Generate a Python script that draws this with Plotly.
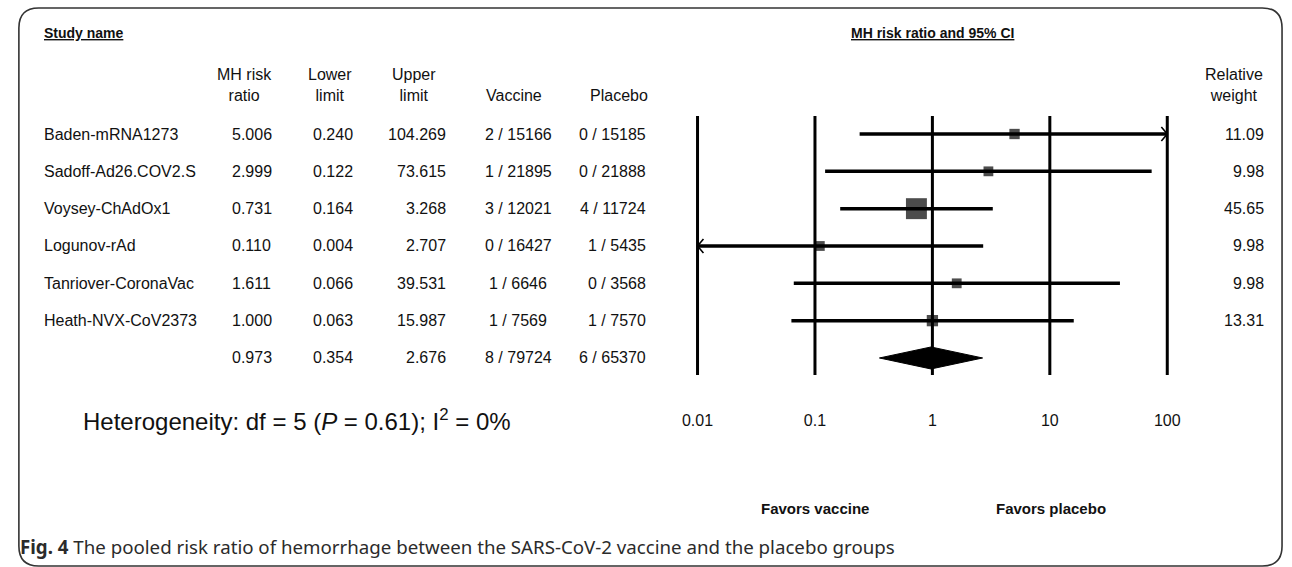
import math
import plotly.graph_objects as go

# ---- data ----
studies = ["Baden-mRNA1273", "Sadoff-Ad26.COV2.S", "Voysey-ChAdOx1",
           "Logunov-rAd", "Tanriover-CoronaVac", "Heath-NVX-CoV2373"]
risk_ratio = [5.006, 2.999, 0.731, 0.110, 1.611, 1.000]
lower_limit = [0.240, 0.122, 0.164, 0.004, 0.066, 0.063]
upper_limit = [104.269, 73.615, 3.268, 2.707, 39.531, 15.987]
vaccine_events = ["2 / 15166", "1 / 21895", "3 / 12021", "0 / 16427", "1 / 6646", "1 / 7569"]
placebo_events = ["0 / 15185", "0 / 21888", "4 / 11724", "1 / 5435", "0 / 3568", "1 / 7570"]
relative_weight = [11.09, 9.98, 45.65, 9.98, 9.98, 13.31]

pooled_rr = 0.973
pooled_lower = 0.354
pooled_upper = 2.676
pooled_vaccine = "8 / 79724"
pooled_placebo = "6 / 65370"

tick_values = [0.01, 0.1, 1, 10, 100]
tick_labels = ["0.01", "0.1", "1", "10", "100"]

# ---- page geometry (pixels) ----
W, H = 1292, 567
ROW0_PX, ROW_STEP = 134.0, 37.33      # centre of first study row, row pitch
PLOT_BOTTOM_PX = 409.0                # bottom of the forest panel
X_MIN_LOG, X_MAX_LOG = -2.05, 2.05
DECADE_PX = 119.0
X_LEFT_PX = 696.7 - 0.05 * DECADE_PX
X_RIGHT_PX = 1172.7 + 0.05 * DECADE_PX


def px(x):
    return x / W


def py(y):
    return 1 - y / H


def row_of(y_px):
    return (y_px - ROW0_PX) / ROW_STEP


FONT = "Liberation Sans, Arial, sans-serif"
INK = "#111111"

fig = go.Figure()

# reference lines at each decade
line_top, line_bottom = row_of(116), row_of(375)
vx, vy = [], []
for t in tick_values:
    vx += [t, t, None]
    vy += [line_top, line_bottom, None]
fig.add_trace(go.Scatter(x=vx, y=vy, mode="lines",
                         line=dict(color="black", width=3), hoverinfo="skip"))

# confidence intervals, clipped to the axis with open arrowheads
lo_lim, hi_lim = 10 ** -2, 10 ** 2
ci_x, ci_y, arr_x, arr_y = [], [], [], []
head_w = 6.0 / DECADE_PX          # arrowhead length in decades
head_h = 7.0 / ROW_STEP           # arrowhead half-height in rows
for i, (lo, hi) in enumerate(zip(lower_limit, upper_limit)):
    a, b = max(lo, lo_lim), min(hi, hi_lim)
    ci_x += [a, b, None]
    ci_y += [i, i, None]
    if hi > hi_lim:
        back = 10 ** (math.log10(hi_lim) - head_w)
        arr_x += [back, hi_lim, back, None]
        arr_y += [i - head_h, i, i + head_h, None]
    if lo < lo_lim:
        back = 10 ** (math.log10(lo_lim) + head_w)
        arr_x += [back, lo_lim, back, None]
        arr_y += [i - head_h, i, i + head_h, None]
fig.add_trace(go.Scatter(x=ci_x, y=ci_y, mode="lines",
                         line=dict(color="black", width=3.5), hoverinfo="skip"))
fig.add_trace(go.Scatter(x=arr_x, y=arr_y, mode="lines",
                         line=dict(color="black", width=1.6), hoverinfo="skip"))

# study point estimates, square size follows relative weight
fig.add_trace(go.Scatter(
    x=risk_ratio, y=list(range(len(studies))), mode="markers",
    marker=dict(symbol="square", color="black",
                size=[3.1 * math.sqrt(w) for w in relative_weight],
                line=dict(width=0)),
    cliponaxis=False, hoverinfo="skip"))

# pooled estimate diamond
pooled_row = len(studies)
half = 11.0 / ROW_STEP
fig.add_trace(go.Scatter(
    x=[pooled_lower, pooled_rr, pooled_upper, pooled_rr, pooled_lower],
    y=[pooled_row, pooled_row - half, pooled_row, pooled_row + half, pooled_row],
    mode="lines", fill="toself", fillcolor="black",
    line=dict(color="black", width=1), hoverinfo="skip"))

annotations = []


def txt(text, x, y, xref="paper", yref="paper", size=16, anchor="center",
        bold=False, color=INK, family=FONT, yanchor="middle"):
    annotations.append(dict(
        text=f"<b>{text}</b>" if bold else text, x=x, y=y, xref=xref, yref=yref,
        xanchor=anchor, yanchor=yanchor, showarrow=False,
        font=dict(family=family, size=size, color=color)))


# headers
txt("<u>Study name</u>", px(32), py(33), size=14, anchor="left", bold=True)
txt("<u>MH risk ratio and 95% CI</u>", px(935), py(33), size=14, bold=True)
txt("MH risk<br>ratio", px(238), py(85))
txt("Lower<br>limit", px(324), py(85))
txt("Upper<br>limit", px(409), py(85))
txt("Vaccine", px(511), py(95))
txt("Placebo", px(617), py(95))
txt("Relative<br>weight", px(1240), py(85))

# table rows
for i, name in enumerate(studies):
    txt(name, px(32), i, yref="y", anchor="left")
    txt(f"{risk_ratio[i]:.3f}", px(245), i, yref="y")
    txt(f"{lower_limit[i]:.3f}", px(327), i, yref="y")
    txt(f"{upper_limit[i]:.3f}", px(444), i, yref="y", anchor="right")
    txt(vaccine_events[i], px(515), i, yref="y")
    txt(placebo_events[i], px(646), i, yref="y", anchor="right")
    txt(f"{relative_weight[i]:.2f}", px(1273), i, yref="y", anchor="right")

txt(f"{pooled_rr:.3f}", px(245), pooled_row, yref="y")
txt(f"{pooled_lower:.3f}", px(327), pooled_row, yref="y")
txt(f"{pooled_upper:.3f}", px(444), pooled_row, yref="y", anchor="right")
txt(pooled_vaccine, px(515), pooled_row, yref="y")
txt(pooled_placebo, px(646), pooled_row, yref="y", anchor="right")

txt("Heterogeneity: df = 5 (<i>P</i> = 0.61); I<sup>2</sup> = 0%",
    px(72), py(420), size=24, anchor="left")

txt("Favors vaccine", px(816), py(508), size=15, bold=True)
txt("Favors placebo", px(1055), py(508), size=15, bold=True)

txt("<b>Fig. 4</b> The pooled risk ratio of hemorrhage between the SARS-CoV-2 "
    "vaccine and the placebo groups", px(8), py(546), size=18.7, anchor="left",
    color="#2b2b2b", family="Noto Sans, Open Sans, sans-serif")

# rounded frame around the figure
x0, x1, y0, y1, r = 9, 1289, 8, 566, 20
frame = (f"M {px(x0 + r)} {py(y0)} L {px(x1 - r)} {py(y0)} "
         f"Q {px(x1)} {py(y0)} {px(x1)} {py(y0 + r)} "
         f"L {px(x1)} {py(y1 - r)} Q {px(x1)} {py(y1)} {px(x1 - r)} {py(y1)} "
         f"L {px(x0 + r)} {py(y1)} Q {px(x0)} {py(y1)} {px(x0)} {py(y1 - r)} "
         f"L {px(x0)} {py(y0 + r)} Q {px(x0)} {py(y0)} {px(x0 + r)} {py(y0)} Z")

fig.update_layout(
    width=W, height=H, margin=dict(l=0, r=0, t=0, b=0),
    paper_bgcolor="white", plot_bgcolor="white", showlegend=False,
    annotations=annotations,
    shapes=[dict(type="path", path=frame, xref="paper", yref="paper",
                 line=dict(color="#333333", width=1.6))],
    xaxis=dict(type="log", range=[X_MIN_LOG, X_MAX_LOG],
               domain=[px(X_LEFT_PX), px(X_RIGHT_PX)],
               tickvals=tick_values, ticktext=tick_labels, ticks="",
               showgrid=False, zeroline=False, showline=False,
               tickfont=dict(family=FONT, size=16, color=INK)),
    yaxis=dict(range=[row_of(PLOT_BOTTOM_PX), row_of(0)],
               domain=[py(PLOT_BOTTOM_PX), 1],
               showticklabels=False, showgrid=False, zeroline=False,
               showline=False, ticks=""),
)

fig.write_html("out.html")
